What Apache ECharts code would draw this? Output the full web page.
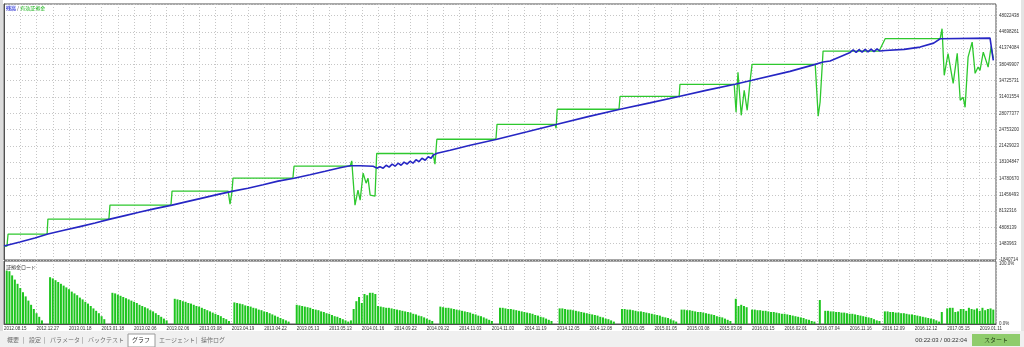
<!DOCTYPE html>
<html><head><meta charset="utf-8">
<script src="https://cdn.jsdelivr.net/npm/echarts@6/dist/echarts.min.js"></script>
<style>html,body{margin:0;padding:0;background:#fff;overflow:hidden}#c{width:1024px;height:347px}</style>
</head><body><div id="c"></div>
<script>
// ---- data ----
const dateLabels = ["2012.08.15","2012.12.27","2013.01.18","2013.01.18","2013.02.06","2013.02.06","2013.03.08","2013.04.19","2013.04.22","2013.05.13","2013.05.13","2014.01.16","2014.09.22","2014.09.22","2014.11.03","2014.11.03","2014.11.19","2014.12.05","2014.12.08","2015.01.05","2015.01.05","2015.03.08","2015.03.08","2016.01.15","2016.02.01","2016.07.04","2016.11.16","2016.12.09","2016.12.12","2017.05.15","2019.01.11"];
const yTickLabels = ["48022438","44698261","41374084","38049907","34725731","31401554","28077377","24753200","21429023","18104847","14780670","11456493","8132316","4808139","1483963","-1840714"];
const yMin = -1840714, yStep = 3324177, yMax = 50370000;
const tradeCount = 366;

// balance (残高): trade number / value
const balanceT = [0,1.5,5.9,11.4,16.2,22.5,28.0,33.6,39.1,44.6,50.2,55.7,62.0,67.5,73.1,78.6,84.5,90.0,95.6,101.1,107.0,112.9,118.5,124.0,127.7,131.4,136.2,137.6,138.7,139.9,141.0,142.1,143.2,144.3,145.4,146.5,147.6,148.7,149.8,150.9,152.0,153.1,154.2,155.4,156.5,157.6,158.3,159.8,164.6,172.0,181.9,193.0,204.1,215.5,227.3,238.3,249.4,259.4,269.7,276.0,290.0,299.3,302.2,304.8,312.2,313.3,314.4,315.5,316.6,317.7,318.8,319.9,321.0,322.1,323.2,325.1,332.1,338.0,343.0,345.4,363.8,365.0];
const balanceV = [1.00e6,1.21e6,1.82e6,2.63e6,3.45e6,4.26e6,4.97e6,5.69e6,6.50e6,7.21e6,7.93e6,8.64e6,9.35e6,10.06e6,10.78e6,11.49e6,12.20e6,12.81e6,13.52e6,14.24e6,14.85e6,15.56e6,16.27e6,16.99e6,17.39e6,17.39e6,17.29e6,16.89e6,17.19e6,16.89e6,17.49e6,17.09e6,17.70e6,17.29e6,17.90e6,17.49e6,18.11e6,17.70e6,18.31e6,17.90e6,18.61e6,18.21e6,18.92e6,18.51e6,19.23e6,18.92e6,19.53e6,19.94e6,20.55e6,21.57e6,22.79e6,24.30e6,25.84e6,27.40e6,28.90e6,30.20e6,31.54e6,32.80e6,33.99e6,34.80e6,36.63e6,38.06e6,38.53e6,38.73e6,40.50e6,41.01e6,40.50e6,41.05e6,40.55e6,41.10e6,40.60e6,41.15e6,40.65e6,41.20e6,40.77e6,40.90e6,41.11e6,41.58e6,42.39e6,43.29e6,43.41e6,38.87e6];

// equity (有効証拠金): trade number / value
const equityT = [0,1.1,1.5,15.9,16.2,38.7,39.1,61.6,62.0,82.7,83.4,84.1,84.5,106.6,107.0,127.7,128.3,129.5,130.6,131.4,132.5,133.6,134.3,135.1,136.9,137.5,158.3,159.0,159.7,181.5,181.9,203.3,203.7,204.1,226.9,227.3,249.1,249.4,269.4,270.1,270.8,272.0,273.1,274.2,275.3,276.0,299.3,300.4,301.1,302.2,322.9,323.6,325.1,345.4,346.1,346.9,348.3,350.2,351.7,352.8,353.9,354.6,355.7,357.2,358.3,359.4,360.1,361.3,363.1,364.2,365.0];
const equityV = [1.00e6,1.00e6,3.45e6,3.45e6,6.50e6,6.50e6,9.35e6,9.35e6,12.20e6,12.20e6,9.55e6,11.99e6,14.85e6,14.85e6,17.29e6,17.29e6,18.37e6,9.35e6,12.41e6,10.37e6,15.87e6,13.83e6,14.85e6,11.39e6,11.18e6,19.88e6,19.88e6,17.70e6,22.79e6,22.79e6,25.84e6,25.84e6,25.03e6,28.90e6,28.90e6,31.54e6,31.54e6,33.99e6,33.99e6,28.28e6,36.43e6,27.67e6,32.77e6,28.69e6,34.80e6,38.06e6,38.06e6,27.47e6,30.38e6,40.77e6,40.77e6,40.50e6,43.29e6,43.29e6,45.33e6,35.82e6,40.24e6,34.19e6,40.30e6,30.73e6,31.34e6,29.30e6,39.54e6,42.60e6,36.23e6,37.51e6,36.84e6,40.56e6,37.51e6,41.72e6,39.28e6];

// margin load (証拠金ロード) in % per trade
const marginLoad = [0,
 89,88,81,74,67,60,53,46,39,32,25,18,12,6, 0,0,
 78,76,73,70,67,64,61,58,54,51,48,44,41,37,34,30,26,22,18,13,8, 0,0,
 52,51,49,47,45,43,41,39,37,35,32,30,28,26,23,21,18,15,12,9,6, 0,0,
 42,41,40,38,37,35,34,32,30,29,27,25,23,21,19,17,15,13,10,8,5, 0,
 36,35,34,33,31,30,29,27,26,24,23,21,20,18,16,14,12,10,8,6,4, 0,0,
 32,31,30,29,28,27,25,24,23,21,20,18,17,15,13,12,10,8,6,4,
 6,25,38,45,35,50,48,52,52,50,
 30,29,28,27,27,26,25,24,23,22,21,20,19,17,16,14,13,11,9,7,5, 0,0,
 29,28,27,27,26,25,24,23,22,21,20,19,17,16,14,13,11,9,7,5, 0,0,
 27,27,26,25,25,24,23,22,21,20,19,18,17,15,14,12,11,9,7,5, 0,0,
 26,26,25,24,24,23,22,21,20,19,18,17,16,15,14,12,11,9,8,6,4, 0,0,
 25,25,24,24,23,22,21,21,20,19,18,17,16,15,14,12,11,10,8,6,4, 0,
 24,24,23,23,22,21,20,20,19,18,17,16,15,13,12,11,9,7,5, 0,
 42,30,32,30,28, 0,
 24,24,23,23,22,22,21,20,20,19,18,17,17,16,15,14,13,12,11,10,8,7,5,4, 0,
 40, 0,
 22,22,21,21,20,20,19,19,18,17,17,16,15,14,13,12,11,10,8,6,5, 0,
 21,21,20,20,19,19,18,18,17,16,16,15,14,13,12,11,10,9,8,6,4,
 20, 0,
 26,27,27,20,21,25,25,22,27,25,24,26,22,27,23,25,26,24];

// ---- chart ----
const NUM = '"Liberation Sans", "DejaVu Sans", sans-serif';
const JP = '"Noto Sans CJK JP", sans-serif';
const GRID = '#c6c6c6';
const FRAME = '#505050';

const chart = echarts.init(document.getElementById('c'), null, {renderer:'canvas', width:1024, height:347});

function yLabel(v){
  const k = Math.round((v - yMin) / yStep);
  if (k < 0 || k > 15 || Math.abs(v - (yMin + k*yStep)) > 1) return '';
  return yTickLabels[15 - k];
}
function xLabel(v){
  if (v % 12 !== 0) return '';
  const i = v / 12;
  return i < dateLabels.length ? dateLabels[i] : '';
}

const equityData = equityT.map((t,i)=>[t, equityV[i]]);
const balanceData = balanceT.map((t,i)=>[t, balanceV[i]]);
const barData = marginLoad.map((v,i)=>[i, v]);

const tabs = [
  ['概要',7],['|',23],['設定',29],['|',44],['パラメータ',50],['|',82],['バックテスト',88],['グラフ',132],['エージェント',159],['|',196],['操作ログ',201]
];

const graphic = [
  {type:'rect', shape:{x:0,y:0,width:3,height:331}, style:{fill:'#dcdcdc'}, silent:true},
  {type:'rect', shape:{x:1021,y:0,width:3,height:331}, style:{fill:'#e4e4e4'}, silent:true},
  {type:'rect', shape:{x:0,y:331,width:1024,height:16}, style:{fill:'#f0f0f0'}, silent:true},
  {type:'rect', shape:{x:128,y:334,width:27,height:13}, style:{fill:'#ffffff', stroke:'#9a9a9a', lineWidth:1}, silent:true},
  {type:'rect', shape:{x:972,y:334,width:48,height:12}, style:{fill:'#8fcc6c'}, silent:true},
  {type:'text', x:996, y:340, style:{text:'スタート', fill:'#1e3a12', font:'6px '+JP, textAlign:'center', textVerticalAlign:'middle'}, silent:true},
  {type:'text', x:967, y:340, style:{text:'00:22:03 / 00:22:04', fill:'#333', font:'6px '+NUM, textAlign:'right', textVerticalAlign:'middle'}, silent:true},
  {type:'text', x:6, y:8, style:{text:'{a|残高} / {b|有効証拠金}', fill:'#444', font:'5px '+JP, textVerticalAlign:'middle',
     rich:{a:{fill:'#1c1cc8', fontSize:5, fontFamily:JP, backgroundColor:'#d6dcff'}, b:{fill:'#10b010', fontSize:5, fontFamily:JP}}}, silent:true},
  {type:'text', x:6, y:267, style:{text:'証拠金ロード', fill:'#333', font:'5px '+JP, textVerticalAlign:'middle'}, silent:true}
];
tabs.forEach(([t,x])=>{
  graphic.push({type:'text', x:x, y:340, style:{text:t, fill: t==='グラフ' ? '#333' : '#707070', font:'6px '+JP, textVerticalAlign:'middle'}, silent:true});
});

const option = {
  animation:false,
  backgroundColor:'#ffffff',
  grid:[
    {left:4, top:4, width:992, height:256, show:true, borderColor:FRAME, borderWidth:1},
    {left:4, top:261, width:992, height:63, show:true, borderColor:FRAME, borderWidth:1}
  ],
  xAxis:[
    {gridIndex:0, type:'value', min:0, max:tradeCount, interval:6,
     axisLine:{show:false}, axisTick:{show:false}, axisLabel:{show:false},
     splitLine:{show:true, lineStyle:{color:GRID, width:1, type:[1,2]}}},
    {gridIndex:1, type:'value', min:0, max:tradeCount, interval:6,
     axisLine:{show:true, lineStyle:{color:FRAME}}, axisTick:{show:false},
     axisLabel:{show:true, fontSize:4.5, fontFamily:NUM, color:'#333', align:'left', margin:2, formatter:xLabel},
     splitLine:{show:true, lineStyle:{color:GRID, width:1, type:[1,2]}}}
  ],
  yAxis:[
    {gridIndex:0, type:'value', position:'right', min:yMin, max:yMax, interval:yStep,
     axisLine:{show:true, lineStyle:{color:FRAME}}, axisTick:{show:false},
     axisLabel:{fontSize:4.5, fontFamily:NUM, color:'#333', margin:3, formatter:yLabel, showMaxLabel:false},
     splitLine:{show:true, lineStyle:{color:GRID, width:1, type:[1,2]}}},
    {gridIndex:1, type:'value', position:'right', min:0, max:105, interval:100,
     axisLine:{show:true, lineStyle:{color:FRAME}}, axisTick:{show:false},
     axisLabel:{fontSize:4.5, fontFamily:NUM, color:'#333', margin:3, showMaxLabel:false,
       formatter:v=> v===0 ? '0.0%' : (v===100 ? '100.0%' : '')},
     splitLine:{show:false}}
  ],
  series:[
    {type:'bar', xAxisIndex:1, yAxisIndex:1, data:barData, barWidth:2, itemStyle:{color:'#1ec51e'}, silent:true},
    {type:'line', xAxisIndex:0, yAxisIndex:0, data:equityData, showSymbol:false, symbol:'none',
     lineStyle:{color:'#2ec82e', width:1.3}, silent:true},
    {type:'line', xAxisIndex:0, yAxisIndex:0, data:balanceData, showSymbol:false, symbol:'none',
     lineStyle:{color:'#2626c4', width:1.6}, silent:true}
  ],
  graphic:graphic
};
chart.setOption(option);
</script>
</body></html>
